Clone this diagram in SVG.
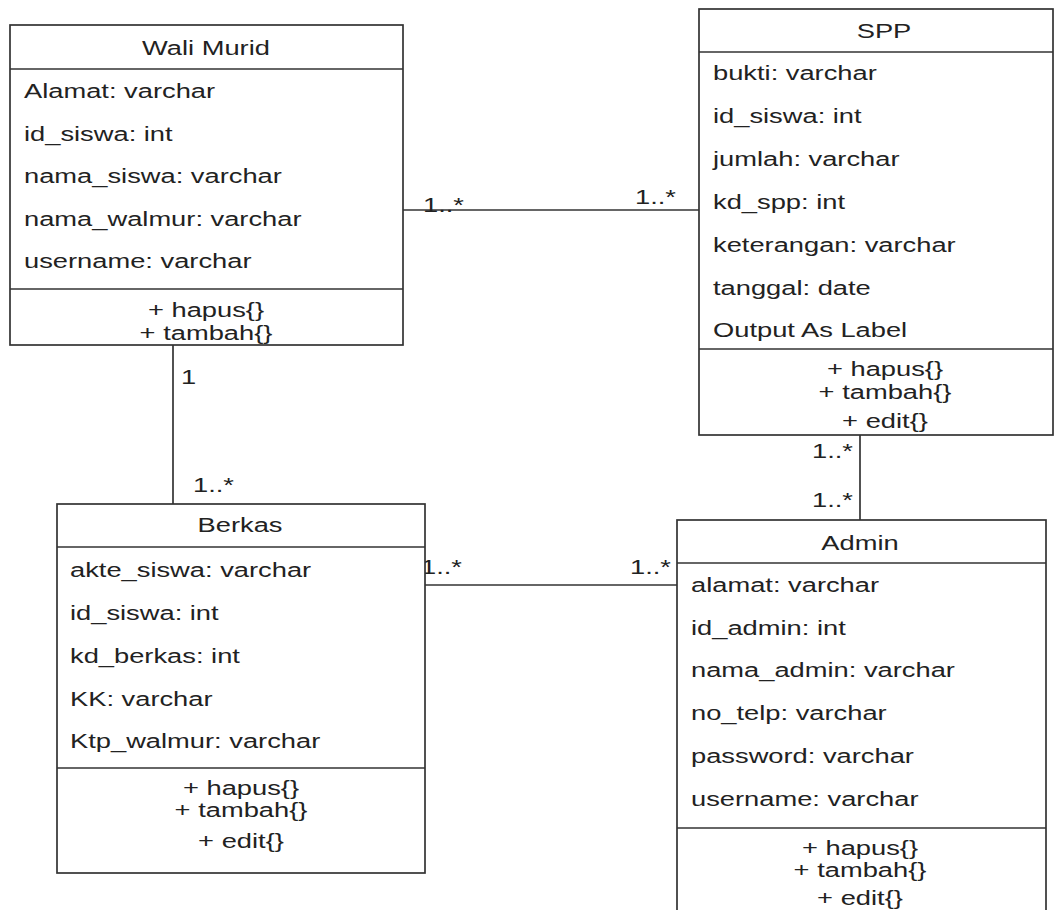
<svg xmlns="http://www.w3.org/2000/svg" width="1055" height="910" viewBox="0 0 1055 910">
<style>
.box{fill:#fff;stroke:#333;stroke-width:1.7}
.sep{stroke:#333;stroke-width:1.7}
.con{stroke:#333;stroke-width:1.7;fill:none}
text{font-family:"Liberation Sans",Arial,sans-serif;font-size:21px;fill:#222}
.c{text-anchor:middle}
</style>
<rect width="1055" height="910" fill="#fff"/>
<g id="connectors">
<line class="con" x1="398" y1="210" x2="699" y2="210"/>
<line class="con" x1="173" y1="345" x2="173" y2="504"/>
<line class="con" x1="425" y1="585" x2="677" y2="585"/>
<line class="con" x1="860" y1="435" x2="860" y2="520"/>
<text transform="translate(423,212) scale(1.3,1)">1..*</text>
<text transform="translate(635,204) scale(1.3,1)">1..*</text>
<text transform="translate(181,384) scale(1.3,1)">1</text>
<text transform="translate(193,492) scale(1.3,1)">1..*</text>
<text transform="translate(421,574) scale(1.3,1)">1..*</text>
<text transform="translate(630,574) scale(1.3,1)">1..*</text>
<text transform="translate(812,458) scale(1.3,1)">1..*</text>
<text transform="translate(812,507) scale(1.3,1)">1..*</text>
</g>
<g id="wali-murid">
<rect class="box" x="10" y="25" width="393" height="320"/>
<line class="sep" x1="10" y1="69" x2="403" y2="69"/>
<line class="sep" x1="10" y1="289" x2="403" y2="289"/>
<text class="c" transform="translate(206,55) scale(1.3,1)">Wali Murid</text>
<text transform="translate(24,98) scale(1.3,1)">Alamat: varchar</text>
<text transform="translate(24,141) scale(1.3,1)">id_siswa: int</text>
<text transform="translate(24,183) scale(1.3,1)">nama_siswa: varchar</text>
<text transform="translate(24,226) scale(1.3,1)">nama_walmur: varchar</text>
<text transform="translate(24,268) scale(1.3,1)">username: varchar</text>
<text class="c" transform="translate(206,317) scale(1.3,1)">+ hapus{}</text>
<text class="c" transform="translate(206,340) scale(1.3,1)">+ tambah{}</text>
</g>
<g id="spp">
<rect class="box" x="699" y="9" width="354" height="426"/>
<line class="sep" x1="699" y1="52" x2="1053" y2="52"/>
<line class="sep" x1="699" y1="349" x2="1053" y2="349"/>
<text class="c" transform="translate(884,38) scale(1.3,1)">SPP</text>
<text transform="translate(713,80) scale(1.3,1)">bukti: varchar</text>
<text transform="translate(713,123) scale(1.3,1)">id_siswa: int</text>
<text transform="translate(713,166) scale(1.3,1)">jumlah: varchar</text>
<text transform="translate(713,209) scale(1.3,1)">kd_spp: int</text>
<text transform="translate(713,252) scale(1.3,1)">keterangan: varchar</text>
<text transform="translate(713,295) scale(1.3,1)">tanggal: date</text>
<text transform="translate(713,337) scale(1.3,1)">Output As Label</text>
<text class="c" transform="translate(885,376) scale(1.3,1)">+ hapus{}</text>
<text class="c" transform="translate(885,399) scale(1.3,1)">+ tambah{}</text>
<text class="c" transform="translate(885,428) scale(1.3,1)">+ edit{}</text>
</g>
<g id="berkas">
<rect class="box" x="57" y="504" width="368" height="369"/>
<line class="sep" x1="57" y1="547" x2="425" y2="547"/>
<line class="sep" x1="57" y1="768" x2="425" y2="768"/>
<text class="c" transform="translate(240,532) scale(1.3,1)">Berkas</text>
<text transform="translate(70,577) scale(1.3,1)">akte_siswa: varchar</text>
<text transform="translate(70,620) scale(1.3,1)">id_siswa: int</text>
<text transform="translate(70,663) scale(1.3,1)">kd_berkas: int</text>
<text transform="translate(70,706) scale(1.3,1)">KK: varchar</text>
<text transform="translate(70,748) scale(1.3,1)">Ktp_walmur: varchar</text>
<text class="c" transform="translate(241,795) scale(1.3,1)">+ hapus{}</text>
<text class="c" transform="translate(241,817) scale(1.3,1)">+ tambah{}</text>
<text class="c" transform="translate(241,848) scale(1.3,1)">+ edit{}</text>
</g>
<g id="admin">
<rect class="box" x="677" y="520" width="369" height="400"/>
<line class="sep" x1="677" y1="563" x2="1046" y2="563"/>
<line class="sep" x1="677" y1="828" x2="1046" y2="828"/>
<text class="c" transform="translate(860,550) scale(1.3,1)">Admin</text>
<text transform="translate(691,592) scale(1.3,1)">alamat: varchar</text>
<text transform="translate(691,635) scale(1.3,1)">id_admin: int</text>
<text transform="translate(691,677) scale(1.3,1)">nama_admin: varchar</text>
<text transform="translate(691,720) scale(1.3,1)">no_telp: varchar</text>
<text transform="translate(691,763) scale(1.3,1)">password: varchar</text>
<text transform="translate(691,806) scale(1.3,1)">username: varchar</text>
<text class="c" transform="translate(860,855) scale(1.3,1)">+ hapus{}</text>
<text class="c" transform="translate(860,877) scale(1.3,1)">+ tambah{}</text>
<text class="c" transform="translate(860,905) scale(1.3,1)">+ edit{}</text>
</g>
</svg>
